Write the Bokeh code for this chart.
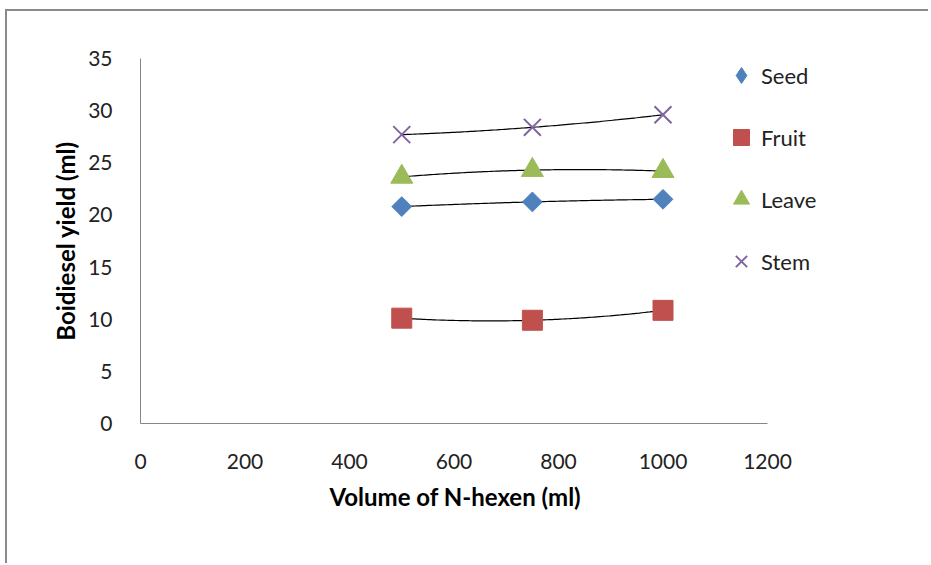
import numpy as np
from bokeh.plotting import figure
from bokeh.models import Range1d, Legend, LegendItem, FixedTicker, Title
from bokeh.embed import file_html
from bokeh.resources import INLINE

# ---- data ----
volume = [500, 750, 1000]
seed = [20.8, 21.25, 21.5]
fruit = [10.1, 9.9, 10.85]
leave = [23.65, 24.3, 24.2]
stem = [27.7, 28.4, 29.6]

x_ticks = [0, 200, 400, 600, 800, 1000, 1200]
y_ticks = [0, 5, 10, 15, 20, 25, 30, 35]

FONT = "Lato"

# frame spans 0..1200 over 627 px; extended on the right so the legend fits
X_END = 1200 * (892 - 133) / (760 - 133)

p = figure(width=923, height=554, output_backend="svg", toolbar_location=None,
           x_range=Range1d(0, X_END), y_range=Range1d(0, 35),
           min_border_left=133, min_border_right=31, min_border_top=47, min_border_bottom=142)
p.styles = {"margin-left": "5px", "margin-top": "9px",
            "border-left": "2px solid #8a8a8a", "border-top": "2px solid #8a8a8a"}
p.outline_line_color = None
p.xgrid.grid_line_color = None
p.ygrid.grid_line_color = None

for ax in (p.xaxis[0], p.yaxis[0]):
    ax.axis_line_color = "#868686"
    ax.major_tick_line_color = None
    ax.minor_tick_line_color = None
    ax.major_label_text_font = FONT
    ax.major_label_text_font_size = "21px"
    ax.major_label_text_color = "#222222"
    ax.axis_label_text_font = FONT
    ax.axis_label_text_font_size = "24px"
    ax.axis_label_text_font_style = "bold"
    ax.axis_label_text_color = "#000000"

p.xaxis.bounds = (0, 1200)
p.xaxis.ticker = FixedTicker(ticks=x_ticks)
p.yaxis.ticker = FixedTicker(ticks=y_ticks)
p.xaxis.major_label_standoff = 24
p.yaxis.major_label_standoff = 22
p.yaxis.axis_label = "Boidiesel yield (ml)"
p.yaxis.axis_label_standoff = 5

# x-axis title, centred under the 0..1200 span of the axis
p.add_layout(Title(text="Volume of N-hexen (ml)", align="left", offset=189,
                   text_font=FONT, text_font_size="24px", text_font_style="bold",
                   text_color="#000000", standoff=16), "below")

# polynomial (order 2) trendlines computed from data
xs = np.linspace(min(volume), max(volume), 100)
for ys in (seed, fruit, leave, stem):
    coef = np.polyfit(volume, ys, 2)
    p.line(xs, np.polyval(coef, xs), line_color="black", line_width=1.2)

r_seed = p.scatter(volume, seed, marker="square", angle=np.pi / 4, size=14,
                   fill_color="#4F81BD", line_color="#4F81BD")
r_fruit = p.scatter(volume, fruit, marker="square", size=20,
                    fill_color="#C0504D", line_color="#C0504D")
r_leave = p.scatter(volume, leave, marker="triangle", size=22,
                    fill_color="#9BBB59", line_color="#9BBB59")
r_stem = p.scatter(volume, stem, marker="x", size=24,
                   line_color="#8064A2", line_width=2)
# legend key for Seed (legend glyphs ignore angle); NaN values keep it off the plot
r_seed_key = p.scatter(volume, [np.nan] * len(volume), marker="diamond",
                       fill_color="#4F81BD", line_color="#4F81BD")

legend = Legend(items=[LegendItem(label="Seed", renderers=[r_seed_key]),
                       LegendItem(label="Fruit", renderers=[r_fruit]),
                       LegendItem(label="Leave", renderers=[r_leave]),
                       LegendItem(label="Stem", renderers=[r_stem])],
                location=(581, 142), orientation="vertical",
                glyph_width=40, glyph_height=40, label_height=40,
                spacing=22, padding=0, margin=0, label_standoff=-4,
                label_text_font=FONT, label_text_font_size="22px",
                label_text_color="#222222",
                border_line_color=None, background_fill_alpha=0)
p.add_layout(legend, "center")

open("out.html", "w").write(file_html(p, INLINE))
